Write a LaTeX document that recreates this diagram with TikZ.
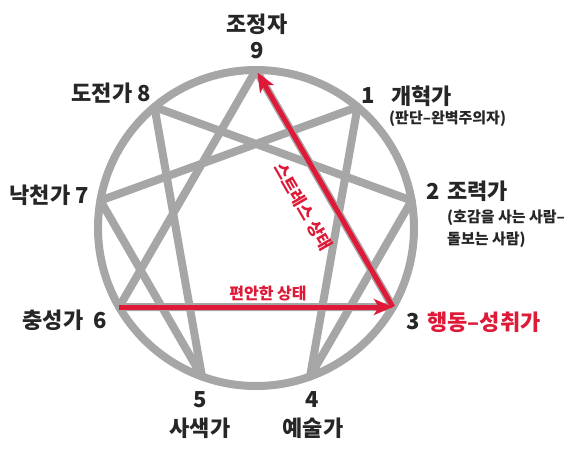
\documentclass[tikz,border=0pt]{standalone}
\usepackage{fontspec}
\setmainfont{Noto Sans CJK KR}
\usetikzlibrary{arrows.meta}
\definecolor{linegray}{RGB}{166,166,166}
\definecolor{stressred}{RGB}{222,26,56}
\definecolor{labeltext}{RGB}{38,38,38}
\begin{document}
\begin{tikzpicture}[x=1pt,y=-1pt,
  lbl/.style={inner sep=0pt, text=labeltext, font=\fontsize{22}{24}\selectfont\bfseries},
  sublbl/.style={inner sep=0pt, text=labeltext, font=\fontsize{15}{22}\selectfont\bfseries},
  redlbl/.style={inner sep=0pt, text=stressred, font=\fontsize{16}{18}\selectfont\bfseries},
  gline/.style={linegray, line width=8pt, line join=round},
  rarrow/.style={stressred, line width=5pt, -{Stealth[length=19pt,width=16pt,inset=5pt]}}]
\useasboundingbox (0,0) rectangle (580,448);
\def\cx{256}
\def\cy{228}
\def\r{158}
% points on the circle, 9 at the top
\foreach \n in {1,...,9} {
  \coordinate (p\n) at ({\cx+\r*sin(40*\n)}, {\cy-\r*cos(40*\n)});
}
\coordinate (c) at (\cx, \cy);

\draw[gline] (c) circle[radius=\r pt];
\draw[gline] (p9) -- (p3) -- (p6) -- cycle;
\draw[gline] (p1) -- (p4) -- (p2) -- (p8) -- (p5) -- (p7) -- cycle;

\draw[rarrow, shorten >=3pt] (p3) -- (p9);
\draw[rarrow] (p6) -- (p3);

\node[lbl] (t9) at (257,24) {조정자};
\node[lbl] (n9) at (257,51) {9};
\node[lbl] (n1) at (368,96) {1};
\node[lbl, anchor=west] (t1) at (391,96) {개혁가};
\node[sublbl, anchor=west] (s1) at (389,119) {(판단–완벽주의자)};
\node[lbl] (n2) at (433,191) {2};
\node[lbl, anchor=west] (t2) at (447,191) {조력가};
\node[sublbl, anchor=west, align=left] (s2) at (447,229) {(호감을 사는 사람–\\돌보는 사람)};
\node[lbl, anchor=east] (t8) at (151,93) {도전가 8};
\node[lbl, anchor=east] (t7) at (89,195) {낙천가 7};
\node[lbl, anchor=east] (t6) at (107,320) {충성가\ \ 6};
\node[lbl] (n3) at (413,322) {3};
\node[lbl, anchor=west, text=stressred] (t3) at (427,322) {행동–성취가};
\node[lbl] (n5) at (200,400) {5};
\node[lbl] (t5) at (200,428) {사색가};
\node[lbl] (n4) at (312,400) {4};
\node[lbl] (t4) at (313,428) {예술가};

\node[redlbl] (relax) at (268,293) {편안한 상태};
\node[redlbl, font=\fontsize{17}{18}\selectfont\bfseries, rotate=-60] (stress) at (303,207) {스트레스 상태};
\end{tikzpicture}
\end{document}
